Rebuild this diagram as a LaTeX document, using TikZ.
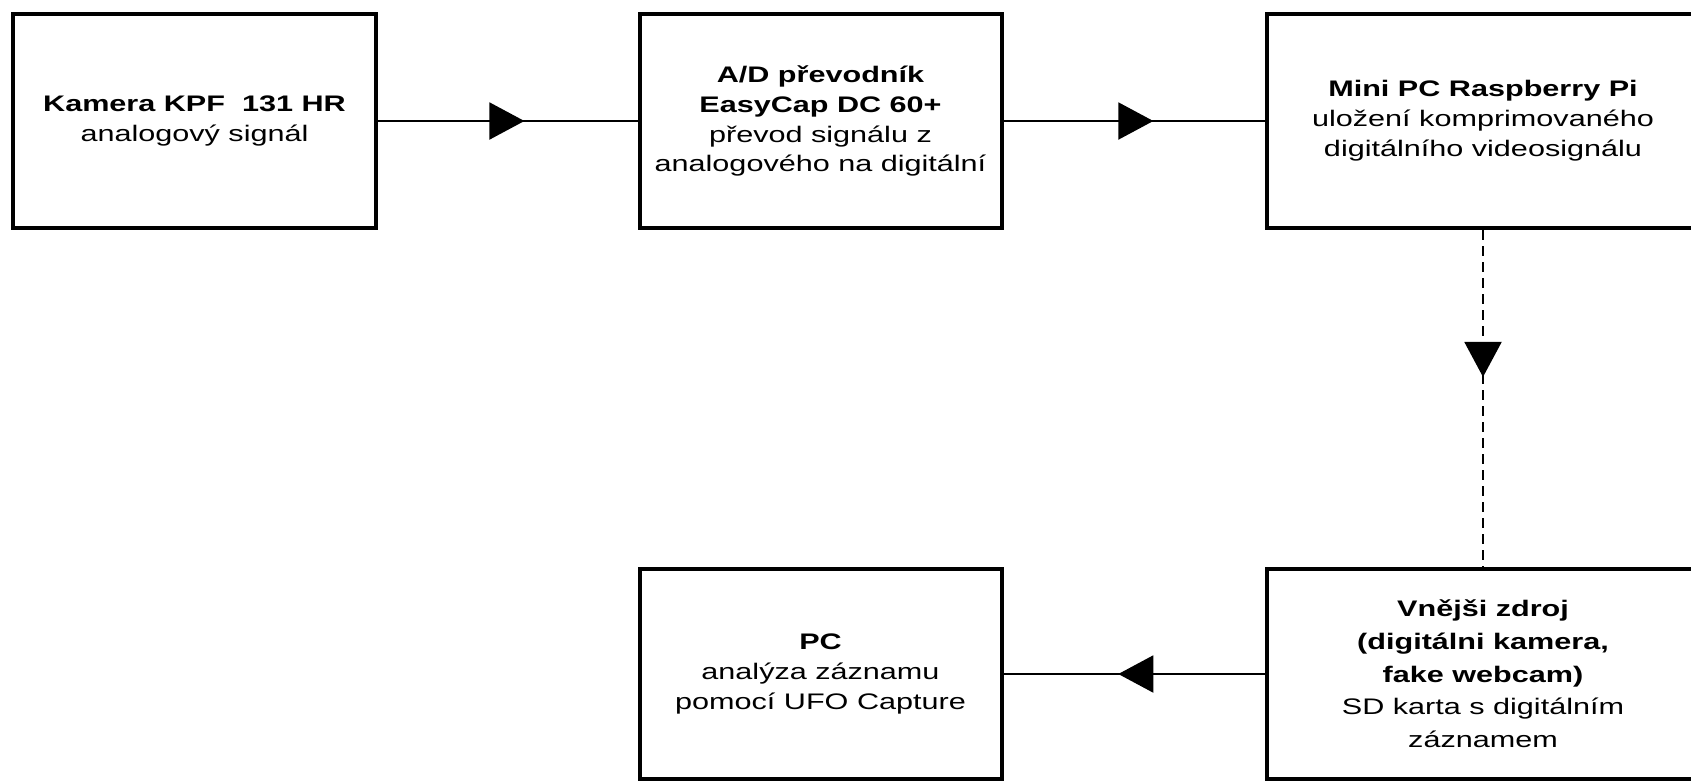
\documentclass[tikz,border=0pt]{standalone}
\usepackage{fontspec}
\setmainfont{Liberation Sans}[FakeStretch=1.36]
\usetikzlibrary{arrows.meta,decorations.markings}

\begin{document}
\begin{tikzpicture}[
	blok/.style={draw, line width=0.08cm, minimum width=7.24cm, minimum height=4.28cm,
		inner sep=0pt, align=center, font=\fontsize{12.8}{17}\selectfont},
	siroky/.style={blok, minimum width=8.64cm},
	dolni/.style={minimum height=4.2cm},
	spoj/.style={line width=0.04cm},
	carkovane/.style={dash pattern=on 0.2cm off 0.12cm},
	sipka/.style={postaction={decorate}, decoration={markings,
		mark=at position #1 with {\arrow{Triangle[length=0.7cm, width=0.74cm]}}}}
	]
	%%%%% START %%%%%
	\useasboundingbox (0, 0) rectangle (33.82, -15.66);
	
	% horni rada
	\node[blok] (kamera) at (3.89, -2.42) {\textbf{Kamera KPF\ \ 131 HR}\\analogový signál};
	\node[blok] (prevodnik) at (16.41, -2.42) {\textbf{A/D převodník}\\\textbf{EasyCap DC 60+}\\převod signálu z\\analogového na digitální};
	\node[siroky] (raspberry) at (29.66, -2.42) {\textbf{Mini PC Raspberry Pi}\\uložení komprimovaného\\digitálního videosignálu};
	
	% dolni rada
	\node[blok, dolni] (pc) at (16.41, -13.48) {\textbf{PC}\\analýza záznamu\\pomocí UFO Capture};
	\node[siroky, dolni, font=\fontsize{12.8}{18.6}\selectfont] (zdroj) at (29.66, -13.48) {\textbf{Vnějši zdroj}\\\textbf{(digitálni kamera,}\\\textbf{fake webcam)}\\SD karta s digitálním\\záznamem};
	
	% spoje
	\draw[spoj, sipka=0.565] (kamera.east) -- (prevodnik.west);
	\draw[spoj, sipka=0.573] (prevodnik.east) -- (raspberry.west);
	\draw[spoj, carkovane, sipka=0.436] (raspberry.south) -- (zdroj.north);
	\draw[spoj, sipka=0.561] (zdroj.west) -- (pc.east);
	%%%%% END %%%%%
\end{tikzpicture}
\end{document}
